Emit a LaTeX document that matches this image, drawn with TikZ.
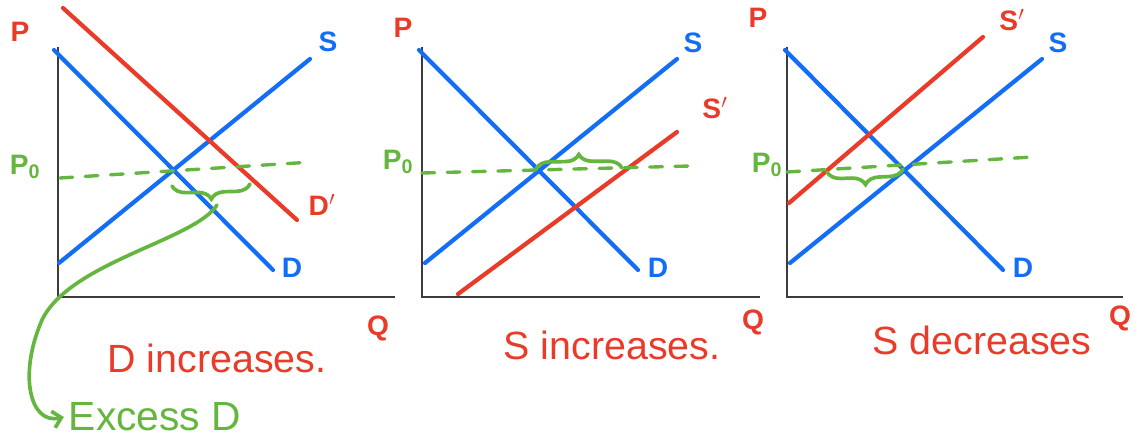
\documentclass[tikz,border=0pt]{standalone}
\usepackage{fontspec}
\setmainfont{Liberation Sans}
\usepackage{xcolor}
\definecolor{penred}{RGB}{234, 58, 40}
\definecolor{penblue}{RGB}{20, 110, 245}
\definecolor{pengreen}{RGB}{100, 182, 62}
\definecolor{axisgray}{RGB}{60, 60, 60}
\usepackage{tikz}
\usetikzlibrary{arrows.meta, positioning, decorations.pathreplacing}

\begin{document}
\begin{tikzpicture}[x=0.025cm, y=-0.025cm,
		axis/.style={draw=axisgray, line width=0.9pt},
		curve/.style={line width=3pt, line cap=round},
		blueline/.style={curve, draw=penblue},
		redline/.style={curve, draw=penred},
		level/.style={draw=pengreen, line width=2.4pt, line cap=round,
			dash pattern=on 9pt off 9pt},
		squiggle/.style={draw=pengreen, line width=2.6pt, line cap=round,
			decorate, decoration={brace, amplitude=10pt}},
		tag/.style={font=\bfseries\fontsize{20}{20}\selectfont},
		caption/.style={font=\fontsize{28}{28}\selectfont, text=penred},
		arrow/.style={-{Straight Barb[length=6pt]}, draw=pengreen,
			line width=2.6pt, line cap=round}
		]
		\useasboundingbox (0,0) rectangle (1144,445);
		
		% demand increases
		\draw[axis] (58,47) -- (58,297) -- (395,297);
		\draw[blueline] (54,50) -- (273,270);
		\draw[blueline] (59,263) -- (310,59);
		\draw[redline] (63,8) -- (297,220);
		\draw[level] (60,178) -- (312,162);
		\draw[squiggle] (250,184) -- (172,186);
		\coordinate (xd) at (217,205);
		\node[tag, text=penred] (p1) at (20,32) {P};
		\node[tag, text=pengreen] (po1) at (25,167) {P\textsubscript{0}};
		\node[tag, text=penblue] (s1) at (328,42) {S};
		\node[tag, text=penblue] (d1) at (292,268) {D};
		\node[tag, text=penred] (dd1) at (322,205) {D$'$};
		\node[tag, text=penred] (q1) at (378,328) {Q};
		\node[caption] (cap1) at (217,358) {D increases.};
		\node[font=\fontsize{29}{29}\selectfont, text=pengreen]
		(excess) at (155,417) {Excess D};
		\draw[arrow] (xd) .. controls (195,240) and (70,262) .. (42,320)
		.. controls (18,375) and (30,425) .. (excess.west);
		
		% supply increases
		\draw[axis] (422,47) -- (422,297) -- (760,297);
		\draw[blueline] (419,50) -- (638,270);
		\draw[blueline] (425,263) -- (677,59);
		\draw[redline] (458,294) -- (677,132);
		\draw[level] (422,173) -- (690,166);
		\draw[squiggle] (536,169) -- (622,168);
		\node[tag, text=penred] (p2) at (403,28) {P};
		\node[tag, text=pengreen] (po2) at (398,162) {P\textsubscript{0}};
		\node[tag, text=penblue] (s2) at (693,43) {S};
		\node[tag, text=penred] (ss2) at (715,108) {S$'$};
		\node[tag, text=penblue] (d2) at (658,268) {D};
		\node[tag, text=penred] (q2) at (753,322) {Q};
		\node[caption] (cap2) at (612,345) {S increases.};
		
		% supply decreases
		\draw[axis] (787,47) -- (787,297) -- (1123,297);
		\draw[blueline] (785,50) -- (1003,270);
		\draw[blueline] (790,263) -- (1042,59);
		\draw[redline] (789,203) -- (983,37);
		\draw[level] (787,172) -- (1032,157);
		\draw[squiggle] (903,169) -- (827,172);
		\node[tag, text=penred] (p3) at (758,18) {P};
		\node[tag, text=pengreen] (po3) at (767,165) {P\textsubscript{0}};
		\node[tag, text=penred] (ss3) at (1012,20) {S$'$};
		\node[tag, text=penblue] (s3) at (1058,43) {S};
		\node[tag, text=penblue] (d3) at (1023,268) {D};
		\node[tag, text=penred] (q3) at (1120,318) {Q};
		\node[caption] (cap3) at (982,340) {S decreases};
	\end{tikzpicture}
\end{document}
